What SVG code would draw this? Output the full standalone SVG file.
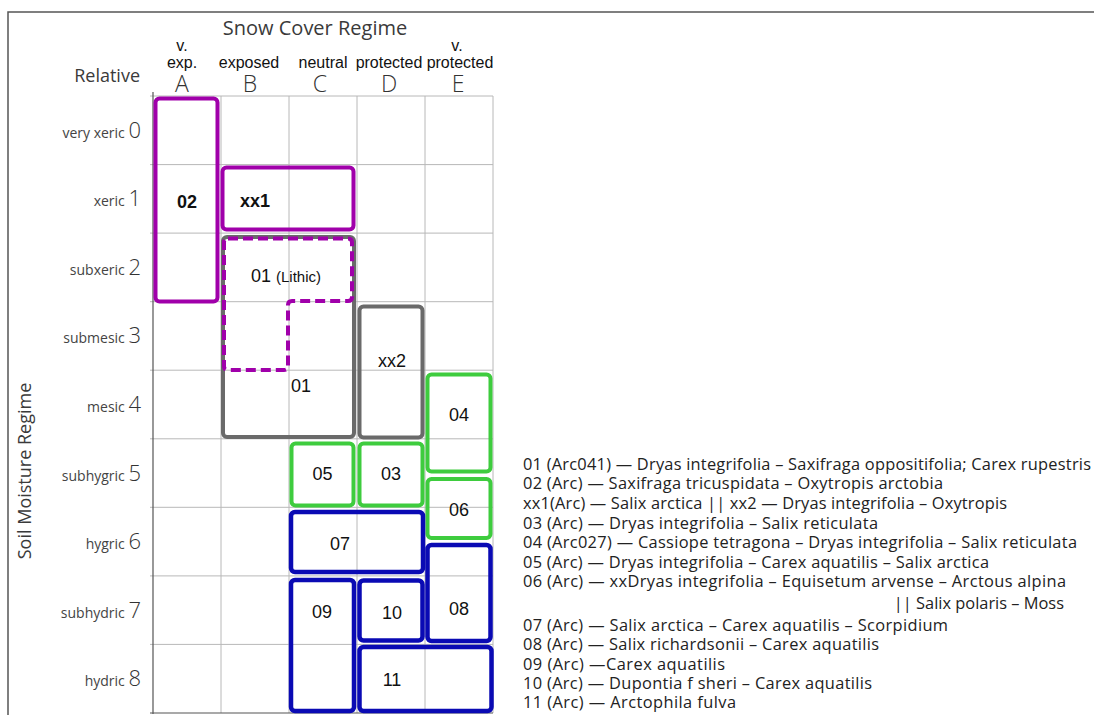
<svg xmlns="http://www.w3.org/2000/svg" width="1094" height="715" viewBox="0 0 1094 715">
<style>
.hdr{font-family:"Open Sans","Noto Sans",sans-serif;fill:#3a3a3a}
.col{font-family:"Liberation Sans",Arial,sans-serif;font-size:16px;fill:#111;text-anchor:middle}
.let{font-family:"Open Sans","Noto Sans",sans-serif;font-weight:300;font-size:23px;fill:#333;text-anchor:middle}
.rl{font-family:"Open Sans","Noto Sans",sans-serif;font-size:14px;fill:#444}
.rd{font-family:"Open Sans","Noto Sans",sans-serif;font-weight:300;font-size:22px;fill:#333}
.grid{stroke:#b8b8b8;stroke-width:1;fill:none}
.axis{stroke:#555;stroke-width:1.2;fill:none}
.box{fill:none;stroke-width:4}
.pur{stroke:#a000aa}
.gry{stroke:#6a6a6a}
.grn{stroke:#3ecc3e}
.blu{stroke:#0a0ab4;stroke-width:4.5}
.lb{font-family:"Liberation Sans",Arial,sans-serif;font-size:18px;fill:#111;text-anchor:middle}
.lbs{font-family:"Liberation Sans",Arial,sans-serif;font-size:18px;fill:#111;text-anchor:start}
.lg{font-family:"Open Sans","Noto Sans",sans-serif;font-size:16.4px;fill:#222}
</style>

<!-- frame -->
<path d="M8 715 V12 H1094" fill="none" stroke="#555" stroke-width="1.5"/>

<!-- headers -->
<text class="hdr" x="315" y="35" font-size="20" text-anchor="middle">Snow Cover Regime</text>
<text class="hdr" x="140" y="82" font-size="18" text-anchor="end">Relative</text>
<text class="col" x="182" y="51">v.</text>
<text class="col" x="182" y="68">exp.</text>
<text class="col" x="249" y="68">exposed</text>
<text class="col" x="323" y="68">neutral</text>
<text class="col" x="389" y="68">protected</text>
<text class="col" x="457" y="51">v.</text>
<text class="col" x="460" y="68">protected</text>
<text class="let" x="182" y="92">A</text>
<text class="let" x="250" y="92">B</text>
<text class="let" x="320" y="92">C</text>
<text class="let" x="389" y="92">D</text>
<text class="let" x="458" y="92">E</text>

<text class="hdr" font-size="18" text-anchor="middle" transform="translate(31 471) rotate(-90)">Soil Moisture Regime</text>

<!-- row labels -->
<g text-anchor="end">
<text x="141" y="138"><tspan class="rl">very xeric </tspan><tspan class="rd">0</tspan></text>
<text x="141" y="206"><tspan class="rl">xeric </tspan><tspan class="rd">1</tspan></text>
<text x="141" y="275"><tspan class="rl">subxeric </tspan><tspan class="rd">2</tspan></text>
<text x="141" y="343"><tspan class="rl">submesic </tspan><tspan class="rd">3</tspan></text>
<text x="141" y="412"><tspan class="rl">mesic </tspan><tspan class="rd">4</tspan></text>
<text x="141" y="481"><tspan class="rl">subhygric </tspan><tspan class="rd">5</tspan></text>
<text x="141" y="549"><tspan class="rl">hygric </tspan><tspan class="rd">6</tspan></text>
<text x="141" y="618"><tspan class="rl">subhydric </tspan><tspan class="rd">7</tspan></text>
<text x="141" y="686"><tspan class="rl">hydric </tspan><tspan class="rd">8</tspan></text>
</g>

<!-- grid -->
<g id="grid">
<path class="grid" d="M221 96V713M289 96V713M357 96V713M425 96V713M493 96V713"/>
<path class="grid" d="M150 96H493M150 164.6H493M150 233.1H493M150 301.7H493M150 370.2H493M150 438.8H493M150 507.3H493M150 575.9H493M150 644.4H493"/>
<path class="axis" d="M153 92V714M150 713H493"/>
</g>

<!-- nodes -->
<g id="n02"><rect class="box pur" x="155.5" y="98.5" width="62" height="203" rx="4"/><text class="lb" x="187" y="208" font-weight="bold">02</text></g>
<g id="nxx1"><rect class="box pur" x="222.5" y="167.5" width="131" height="62" rx="4"/><text class="lb" x="255" y="207" font-weight="bold">xx1</text></g>
<g id="n01"><rect class="box gry" x="223" y="237" width="131" height="200" rx="4"/><text class="lb" x="301" y="392">01</text></g>
<g id="n01lithic"><path class="box pur" stroke-dasharray="10 5" d="M228 238.5H348Q352 238.5 352 242.5V297Q352 301 348 301H292Q288 301 288 305V366Q288 370 284 370H228Q224 370 224 366V242.5Q224 238.5 228 238.5Z"/><text class="lbs" x="251" y="282">01 <tspan font-size="15">(Lithic)</tspan></text></g>
<g id="nxx2"><rect class="box gry" x="359.5" y="306.5" width="63" height="131" rx="4"/><text class="lb" x="392" y="367">xx2</text></g>
<g id="n04"><rect class="box grn" x="427.5" y="374.5" width="63" height="97" rx="4"/><text class="lb" x="459" y="421">04</text></g>
<g id="n05"><rect class="box grn" x="291.5" y="443.5" width="62" height="62" rx="4"/><text class="lb" x="322.5" y="480">05</text></g>
<g id="n03"><rect class="box grn" x="359.5" y="443.5" width="63" height="62" rx="4"/><text class="lb" x="391" y="480">03</text></g>
<g id="n06"><rect class="box grn" x="427.5" y="479" width="63" height="59" rx="4"/><text class="lb" x="459" y="515.5">06</text></g>
<g id="n07"><rect class="box blu" x="291" y="512" width="132" height="60" rx="4"/><text class="lb" x="340" y="549.5">07</text></g>
<g id="n08"><rect class="box blu" x="427.5" y="545" width="63" height="96" rx="4"/><text class="lb" x="459" y="615">08</text></g>
<g id="n09"><rect class="box blu" x="291" y="580" width="63" height="131" rx="4"/><text class="lb" x="322" y="618">09</text></g>
<g id="n10"><rect class="box blu" x="359.5" y="580.5" width="63" height="60" rx="4"/><text class="lb" x="392" y="618.5">10</text></g>
<g id="n11"><rect class="box blu" x="359.5" y="647" width="132" height="64" rx="4"/><text class="lb" x="392" y="685.5">11</text></g>

<g id="connectors"></g>

<!-- legend -->
<g id="legend" class="lg">
<text x="523" y="470" textLength="568">01 (Arc041) — Dryas integrifolia – Saxifraga oppositifolia; Carex rupestris</text>
<text x="523" y="489" textLength="420">02 (Arc) — Saxifraga tricuspidata – Oxytropis arctobia</text>
<text x="523" y="509" textLength="484">xx1(Arc) — Salix arctica || xx2 — Dryas integrifolia – Oxytropis</text>
<text x="523" y="529" textLength="355">03 (Arc) — Dryas integrifolia – Salix reticulata</text>
<text x="523" y="548" textLength="554">04 (Arc027) — Cassiope tetragona – Dryas integrifolia – Salix reticulata</text>
<text x="523" y="568" textLength="466">05 (Arc) — Dryas integrifolia – Carex aquatilis – Salix arctica</text>
<text x="523" y="587" textLength="543">06 (Arc) — xxDryas integrifolia – Equisetum arvense – Arctous alpina</text>
<text x="1064" y="609" text-anchor="end">|| Salix polaris – Moss</text>
<text x="523" y="631" textLength="425">07 (Arc) — Salix arctica – Carex aquatilis – Scorpidium</text>
<text x="523" y="650" textLength="356">08 (Arc) — Salix richardsonii – Carex aquatilis</text>
<text x="523" y="670" textLength="202">09 (Arc) —Carex aquatilis</text>
<text x="523" y="689" textLength="349">10 (Arc) — Dupontia f sheri – Carex aquatilis</text>
<text x="523" y="708" textLength="213">11 (Arc) — Arctophila fulva</text>
</g>
</svg>
